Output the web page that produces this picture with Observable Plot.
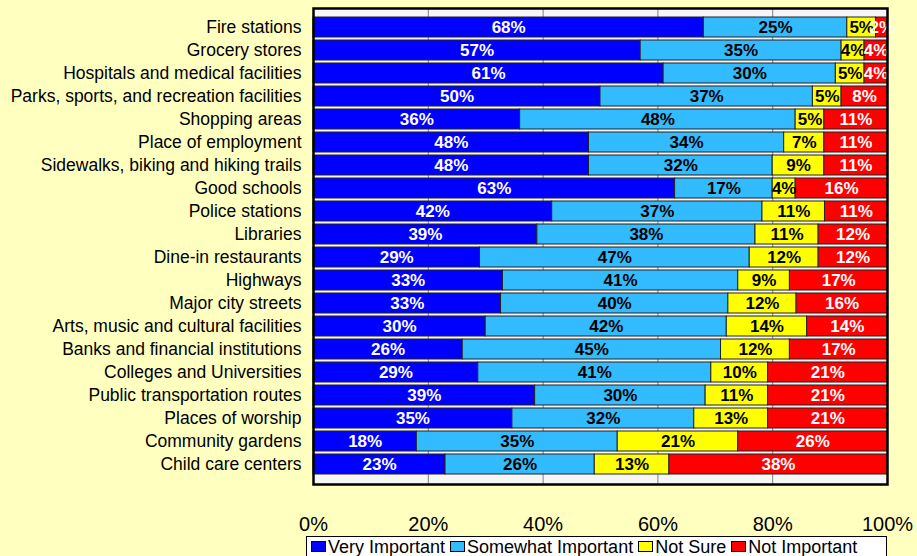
<!DOCTYPE html>
<html>
<head>
<meta charset="utf-8">
<script src="https://cdn.jsdelivr.net/npm/d3@7"></script>
<script src="https://cdn.jsdelivr.net/npm/@observablehq/plot@0.6"></script>
<style>
  html, body { margin: 0; padding: 0; background: #FFFFC0; }
  body { width: 917px; height: 556px; overflow: hidden; font-family: "Liberation Sans", Arial, sans-serif; }
  #chart svg { background: transparent !important; display: block; }
  #chart g[aria-label^="x-axis"] text { font-size: 20px; }
  #chart g[aria-label^="y-axis"] text { font-size: 17.5px; }
  #legend { position: absolute; left: 306px; top: 536px; width: 581px; height: 21px; box-sizing: border-box;
            border: 1px solid #000; background: #fff; display: flex; align-items: center; padding-left: 4px;
            font-size: 18px; line-height: 1; color: #000; white-space: nowrap; }
  .item { display: flex; align-items: center; margin-right: 5px; }
  .item span { line-height: 1; }
  .sw { width: 15px; height: 11px; border: 1px solid #000; box-sizing: border-box; margin-right: 2px; }
</style>
</head>
<body>
<div id="chart"></div>
<div id="legend"></div>
<script>
const items = [
  "Fire stations",
  "Grocery stores",
  "Hospitals and medical facilities",
  "Parks, sports, and recreation facilities",
  "Shopping areas",
  "Place of employment",
  "Sidewalks, biking and hiking trails",
  "Good schools",
  "Police stations",
  "Libraries",
  "Dine-in restaurants",
  "Highways",
  "Major city streets",
  "Arts, music and cultural facilities",
  "Banks and financial institutions",
  "Colleges and Universities",
  "Public transportation routes",
  "Places of worship",
  "Community gardens",
  "Child care centers"
];
const categories = ["Very Important", "Somewhat Important", "Not Sure", "Not Important"];
const veryImportant     = [68, 57, 61, 50, 36, 48, 48, 63, 42, 39, 29, 33, 33, 30, 26, 29, 39, 35, 18, 23];
const somewhatImportant = [25, 35, 30, 37, 48, 34, 32, 17, 37, 38, 47, 41, 40, 42, 45, 41, 30, 32, 35, 26];
const notSure           = [ 5,  4,  5,  5,  5,  7,  9,  4, 11, 11, 12,  9, 12, 14, 12, 10, 11, 13, 21, 13];
const notImportant      = [ 2,  4,  4,  8, 11, 11, 11, 16, 11, 12, 12, 17, 16, 14, 17, 21, 21, 21, 26, 38];
const xTicks = [0, 0.2, 0.4, 0.6, 0.8, 1];
const gridTicks = [0.2, 0.4, 0.6, 0.8];

const colors = ["#0000FF", "#33BBFF", "#FFFF00", "#FF0000"];
const labelColors = ["#FFFFFF", "#000000", "#000000", "#FFFFFF"];
const series = [veryImportant, somewhatImportant, notSure, notImportant];

const fillOf = Object.fromEntries(categories.map((c, i) => [c, colors[i]]));
const textOf = Object.fromEntries(categories.map((c, i) => [c, labelColors[i]]));

const data = [];
items.forEach((item, i) => {
  categories.forEach((cat, j) => {
    data.push({item, cat, value: series[j][i]});
  });
});

const chart = Plot.plot({
  width: 917,
  height: 536,
  marginLeft: 313,
  marginRight: 30,
  marginTop: 8,
  marginBottom: 52,
  style: {fontFamily: "'Liberation Sans', Arial, sans-serif", fontSize: "17px", color: "#000", background: "transparent"},
  color: {type: "identity"},
  x: {domain: [0, 1], ticks: xTicks, tickFormat: d3.format(".0%"), tickSize: 0, tickPadding: 32, label: null},
  y: {domain: items, padding: 0.12, tickSize: 0, tickPadding: 12, label: null},
  marks: [
    Plot.frame({fill: "#F6F6F6", stroke: null}),
    Plot.ruleX(gridTicks, {stroke: "#808080", strokeWidth: 1}),
    Plot.barX(data, Plot.stackX({
      x: "value", y: "item", z: "cat", order: categories, offset: "normalize",
      fill: d => fillOf[d.cat], stroke: "#222", strokeWidth: 1
    })),
    Plot.text(data, Plot.stackX({
      x: "value", y: "item", z: "cat", order: categories, offset: "normalize",
      text: d => d.value + "%", fill: d => textOf[d.cat],
      fontSize: 17, fontWeight: "bold"
    })),
    Plot.frame({stroke: "#000", strokeWidth: 2.5})
  ]
});
document.getElementById("chart").appendChild(chart);

const legend = document.getElementById("legend");
categories.forEach((c, i) => {
  const it = document.createElement("div");
  it.className = "item";
  const sw = document.createElement("div");
  sw.className = "sw";
  sw.style.background = colors[i];
  const tx = document.createElement("span");
  tx.textContent = c;
  it.appendChild(sw);
  it.appendChild(tx);
  legend.appendChild(it);
});
</script>
</body>
</html>
